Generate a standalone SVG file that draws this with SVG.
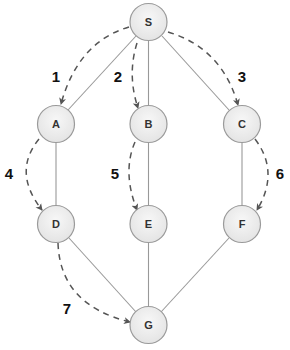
<svg xmlns="http://www.w3.org/2000/svg" width="290" height="350" viewBox="0 0 290 350">
<defs>
<radialGradient id="g" cx="50%" cy="40%" r="60%">
<stop offset="0" stop-color="#f7f7f7"/>
<stop offset="1" stop-color="#e4e4e4"/>
</radialGradient>
<marker id="ah" markerWidth="8" markerHeight="8" refX="6" refY="4" orient="auto" markerUnits="userSpaceOnUse">
<path d="M0,0.5 L7,4 L0,7.5 L1.8,4 Z" fill="#555"/>
</marker>
<style>
.node circle{fill:url(#g);stroke:#9a9a9a;stroke-width:1.2}
.node text{font-family:"Liberation Sans",Arial,sans-serif;font-size:11px;font-weight:bold;fill:#333;text-anchor:middle}
.edge{stroke:#999;stroke-width:1.1;fill:none}
.trav{stroke:#555;stroke-width:1.5;fill:none;stroke-dasharray:6,5;marker-end:url(#ah)}
.num{font-family:"Liberation Sans",Arial,sans-serif;font-size:15px;font-weight:bold;fill:#111;text-anchor:middle}
</style>
</defs>
<rect width="290" height="350" fill="#fff"/>
<g id="connectors">
<line class="edge" x1="136" y1="36" x2="68" y2="110"/>
<line class="edge" x1="148.5" y1="41" x2="148.5" y2="105"/>
<line class="edge" x1="162" y1="36" x2="229" y2="110"/>
<line class="edge" x1="56" y1="143" x2="56" y2="205"/>
<line class="edge" x1="148.5" y1="143" x2="148.5" y2="205"/>
<line class="edge" x1="242" y1="143" x2="242" y2="205"/>
<line class="edge" x1="69" y1="238" x2="136" y2="312"/>
<line class="edge" x1="148.5" y1="243" x2="148.5" y2="306"/>
<line class="edge" x1="229" y1="238" x2="161" y2="312"/>
<path class="trav" d="M129,27 Q78,42 61,104"/>
<path class="trav" d="M137,43 Q127,75 138,108"/>
<path class="trav" d="M168,32 Q222,48 238,105"/>
<path class="trav" d="M39,139 Q12,172 42,210"/>
<path class="trav" d="M135,142 Q122,172 137,210"/>
<path class="trav" d="M255,139 Q280,172 257,210"/>
<path class="trav" d="M58,243 Q60,305 130,322"/>
</g>
<text class="num" x="56" y="82">1</text>
<text class="num" x="118" y="82">2</text>
<text class="num" x="242" y="82">3</text>
<text class="num" x="9" y="179">4</text>
<text class="num" x="115" y="179">5</text>
<text class="num" x="280" y="179">6</text>
<text class="num" x="67" y="314">7</text>
<g id="S" class="node"><circle cx="148.5" cy="22" r="18.5"/><text x="148.5" y="26">S</text></g>
<g id="A" class="node"><circle cx="56" cy="124" r="18.5"/><text x="56" y="128">A</text></g>
<g id="B" class="node"><circle cx="148.5" cy="124" r="18.5"/><text x="148.5" y="128">B</text></g>
<g id="C" class="node"><circle cx="242" cy="124" r="18.5"/><text x="242" y="128">C</text></g>
<g id="D" class="node"><circle cx="56" cy="224" r="18.5"/><text x="56" y="228">D</text></g>
<g id="E" class="node"><circle cx="148.5" cy="224" r="18.5"/><text x="148.5" y="228">E</text></g>
<g id="F" class="node"><circle cx="242" cy="224" r="18.5"/><text x="242" y="228">F</text></g>
<g id="G" class="node"><circle cx="148.5" cy="325" r="18.5"/><text x="148.5" y="329">G</text></g>
</svg>
